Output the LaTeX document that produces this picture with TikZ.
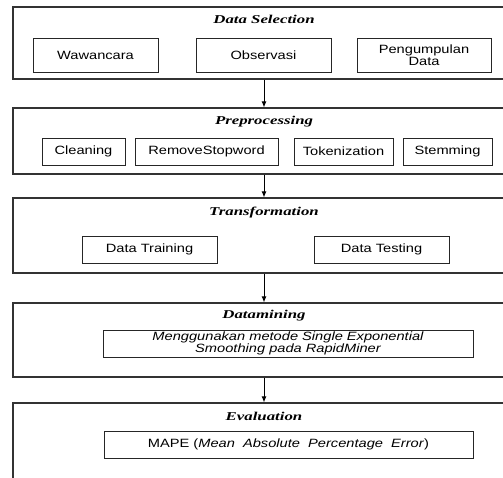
\documentclass[tikz,border=0pt]{standalone}
\usepackage{fontspec}
\usetikzlibrary{arrows.meta}
\newfontfamily\boxfont[FakeStretch=1.22]{Liberation Sans}
\newfontfamily\stagefont[FakeStretch=1.4]{Liberation Serif}
\begin{document}
\begin{tikzpicture}[x=1pt,y=-1pt,
  stage/.style={rectangle,draw=black!80,line width=1.2pt,minimum width=502pt,inner sep=0pt},
  stagetitle/.style={font=\stagefont\fontsize{12}{13}\selectfont\bfseries\itshape},
  item/.style={rectangle,draw=black!85,line width=0.8pt,inner sep=0pt,align=center,
    font=\boxfont\fontsize{12}{12}\selectfont},
  flow/.style={-{Latex[length=6pt,width=5pt]},line width=0.9pt}]
\useasboundingbox (0,0) rectangle (503,478);
\clip (0,0) rectangle (503,478);
% stages
\node [stage,minimum height=72pt] (sel) at (264,43) {};
\node [stage,minimum height=66pt] (pre) at (264,141) {};
\node [stage,minimum height=75pt] (tra) at (264,235.5) {};
\node [stage,minimum height=74pt] (dm) at (264,340) {};
\node [stage,minimum height=117pt] (eva) at (264,461.5) {};
\node [stagetitle] (selt) at (264,19) {Data Selection};
\node [stagetitle] (pret) at (264,122) {Preprocessing};
\node [stagetitle] (trat) at (264,213) {Transformation};
\node [stagetitle] (dmt) at (264,316) {Datamining};
\node [stagetitle] (evat) at (264,416) {Evaluation};
% items
\node [item,minimum width=125pt,minimum height=34pt] (waw) at (95.5,55) {Wawancara};
\node [item,minimum width=135pt,minimum height=34pt] (obs) at (263.5,55) {Observasi};
\node [item,minimum width=134pt,minimum height=34pt] (pgd) at (424,55) {Pengumpulan\\Data};
\node [item,minimum width=83pt,minimum height=27pt] (cln) at (83.5,151.5) {Cleaning};
\node [item,minimum width=143pt,minimum height=27pt] (rsw) at (206.5,151.5) {RemoveStopword};
\node [item,minimum width=99pt,minimum height=27pt] (tok) at (343.5,151.5) {Tokenization};
\node [item,minimum width=89pt,minimum height=27pt] (stm) at (447.5,151.5) {Stemming};
\node [item,minimum width=135pt,minimum height=27pt] (dtr) at (149.5,249.5) {Data Training};
\node [item,minimum width=135pt,minimum height=27pt] (dts) at (381.5,249.5) {Data Testing};
\node [item,minimum width=370pt,minimum height=27pt,font=\boxfont\fontsize{12}{11}\selectfont\itshape] (ses) at (288,343.5)
  {Menggunakan metode Single Exponential\\Smoothing pada RapidMiner};
\node [item,minimum width=369pt,minimum height=27pt] (mape) at (288.5,444.5)
  {MAPE (\textit{Mean~~Absolute~~Percentage~~Error})};
% flow
\draw [flow] (sel.south) -- (pre.north);
\draw [flow] (pre.south) -- (tra.north);
\draw [flow] (tra.south) -- (dm.north);
\draw [flow] (dm.south) -- (eva.north);
\end{tikzpicture}
\end{document}
